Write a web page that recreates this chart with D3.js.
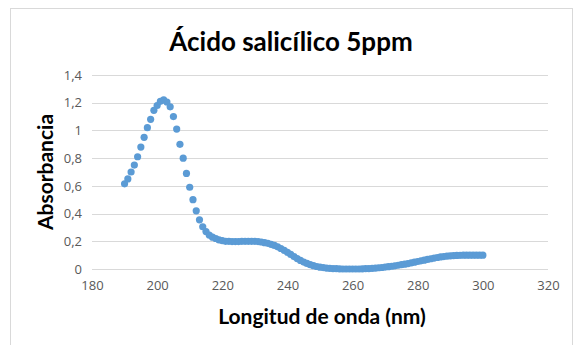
<!DOCTYPE html>
<html>
<head>
<meta charset="utf-8">
<script src="https://cdn.jsdelivr.net/npm/d3@7"></script>
<style>
body { margin: 0; background: #fff; }
svg { display: block; }
</style>
</head>
<body>
<svg width="574" height="345"></svg>
<script>
// wavelength (nm) and absorbance
var wavelength = d3.range(190, 301);
var absorbance = [
	0.615, 0.65, 0.70, 0.75, 0.81, 0.88, 0.95, 1.02, 1.08, 1.145,
	1.18, 1.21, 1.22, 1.205, 1.17, 1.10, 1.01, 0.90, 0.80, 0.69,
	0.59, 0.50, 0.42, 0.355, 0.305, 0.27, 0.245, 0.23, 0.22, 0.21,
	0.205, 0.20, 0.20, 0.198, 0.198, 0.198, 0.20, 0.20, 0.20, 0.20,
	0.20, 0.198, 0.195, 0.19, 0.185, 0.178, 0.17, 0.16, 0.148, 0.135,
	0.12, 0.105, 0.09, 0.075, 0.062, 0.05, 0.04, 0.031, 0.024, 0.018,
	0.013, 0.01, 0.007, 0.005, 0.003, 0.002, 0.001, 0.0, 0.0, 0.0,
	0.0, 0.0, 0.0, 0.001, 0.002, 0.003, 0.005, 0.007, 0.009, 0.011,
	0.014, 0.017, 0.02, 0.023, 0.027, 0.031, 0.035, 0.039, 0.044, 0.049,
	0.054, 0.059, 0.064, 0.069, 0.074, 0.079, 0.083, 0.087, 0.09, 0.093,
	0.095, 0.097, 0.098, 0.099, 0.10, 0.10, 0.10, 0.10, 0.10, 0.10,
	0.10
];
var xTicks = [180, 200, 220, 240, 260, 280, 300, 320];
var yTicks = [0, 0.2, 0.4, 0.6, 0.8, 1, 1.2, 1.4];

var svg = d3.select("svg");

// chart border
svg.append("rect")
	.attr("x", 10.5)
	.attr("y", 8.5)
	.attr("width", 562)
	.attr("height", 345)
	.attr("fill", "#fff")
	.attr("stroke", "#d9d9d9");

var x = d3.scaleLinear().domain([180, 320]).range([92, 548]);
var y = d3.scaleLinear().domain([0, 1.4]).range([269, 75]);

var comma = function(d) { return String(d).replace(".", ","); };

// gridlines
svg.append("g")
	.selectAll("line")
	.data(yTicks)
	.join("line")
	.attr("x1", x(180))
	.attr("x2", x(320))
	.attr("y1", function(d) { return Math.round(y(d)) + 0.5; })
	.attr("y2", function(d) { return Math.round(y(d)) + 0.5; })
	.attr("stroke", "#d9d9d9")
	.attr("stroke-width", 1);

var yAxis = svg.append("g")
	.attr("transform", "translate(" + x(180) + ",0)")
	.call(d3.axisLeft(y).tickValues(yTicks).tickFormat(comma).tickSize(0).tickPadding(10));
yAxis.select(".domain").remove();

var xAxis = svg.append("g")
	.attr("transform", "translate(0," + y(0) + ")")
	.call(d3.axisBottom(x).tickValues(xTicks).tickFormat(d3.format("d")).tickSize(0).tickPadding(12));
xAxis.select(".domain").remove();

svg.selectAll(".tick text")
	.attr("fill", "#595959")
	.style("font-family", "'Open Sans', sans-serif")
	.style("font-size", "13px");

// points
svg.append("g")
	.selectAll("circle")
	.data(wavelength)
	.join("circle")
	.attr("cx", function(d) { return x(d); })
	.attr("cy", function(d, i) { return y(absorbance[i]); })
	.attr("r", 3.6)
	.attr("fill", "#5b9bd5");

// title and axis labels
svg.append("text")
	.attr("x", 291)
	.attr("y", 51)
	.attr("text-anchor", "middle")
	.style("font-family", "Lato, sans-serif")
	.style("font-weight", "bold")
	.style("font-size", "26px")
	.attr("fill", "#000")
	.text("Ácido salicílico 5ppm");

svg.append("text")
	.attr("x", 322)
	.attr("y", 324)
	.attr("text-anchor", "middle")
	.style("font-family", "Lato, sans-serif")
	.style("font-weight", "bold")
	.style("font-size", "21px")
	.attr("fill", "#000")
	.text("Longitud de onda (nm)");

svg.append("text")
	.attr("transform", "translate(53,172) rotate(-90)")
	.attr("text-anchor", "middle")
	.style("font-family", "Lato, sans-serif")
	.style("font-weight", "bold")
	.style("font-size", "21px")
	.attr("fill", "#000")
	.text("Absorbancia");
</script>
</body>
</html>
